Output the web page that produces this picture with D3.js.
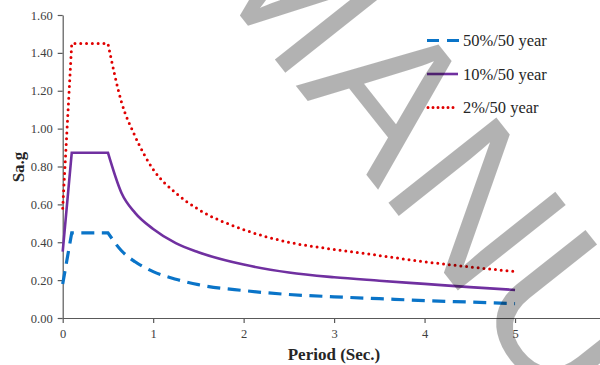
<!DOCTYPE html>
<html>
<head>
<meta charset="utf-8">
<script src="https://cdn.jsdelivr.net/npm/d3@7"></script>
<style>
  body { margin: 0; background: #fff; }
  svg { display: block; }
</style>
</head>
<body>
<svg width="600" height="365"></svg>
<script>
// periods (sec) and spectral values
var periods = [0, 0.1, 0.5, 0.65, 0.8, 1.0, 1.25, 1.5, 2.0, 2.5, 3.0, 3.5, 4.0, 4.5, 5.0];
var s50 = [0.18, 0.45, 0.45, 0.355, 0.297, 0.245, 0.205, 0.176, 0.145, 0.124, 0.112, 0.102, 0.092, 0.084, 0.076];
var s10 = [0.35, 0.873, 0.873, 0.66, 0.555, 0.47, 0.395, 0.347, 0.282, 0.24, 0.215, 0.197, 0.18, 0.163, 0.148];
var s2 = [0.58, 1.45, 1.45, 1.14, 0.96, 0.785, 0.66, 0.574, 0.467, 0.40, 0.362, 0.33, 0.297, 0.27, 0.245];
var seriesNames = ["50%/50 year", "10%/50 year", "2%/50 year"];
var xTicks = [0, 1, 2, 3, 4, 5];
var yTicks = [0, 0.2, 0.4, 0.6, 0.8, 1.0, 1.2, 1.4, 1.6];

var styles = [
  {color: "#0a74c8", width: 3.2, dash: "13 7.5", cap: "butt"},
  {color: "#7030a0", width: 2.6, dash: null, cap: "butt"},
  {color: "#e00000", width: 3, dash: "0 5.8", cap: "round"}
];

var svg = d3.select("svg");

var x = d3.scaleLinear().domain([0, 6]).range([62.7, 605.5]);
var y = d3.scaleLinear().domain([0, 1.6]).range([318, 15]);

// axes
var yAxis = svg.append("g")
  .attr("transform", "translate(62.7,0)")
  .call(d3.axisLeft(y).tickValues(yTicks).tickFormat(d3.format(".2f")).tickSize(5).tickSizeOuter(0).tickPadding(5));
var xAxis = svg.append("g")
  .attr("transform", "translate(0,318)")
  .call(d3.axisBottom(x).tickValues(xTicks).tickFormat(d3.format("d")).tickSize(5).tickSizeOuter(0).tickPadding(6));

svg.selectAll(".domain, .tick line").attr("stroke", "#595959").attr("stroke-width", 1.2);
svg.selectAll(".tick text")
  .attr("font-family", "'Liberation Serif', serif")
  .attr("font-size", 12.5)
  .attr("fill", "#404040");

// axis titles
svg.append("text")
  .attr("x", 334).attr("y", 360)
  .attr("text-anchor", "middle")
  .attr("font-family", "'Liberation Serif', serif")
  .attr("font-weight", "bold")
  .attr("font-size", 17)
  .attr("fill", "#262626")
  .text("Period (Sec.)");

svg.append("text")
  .attr("transform", "translate(24,167) rotate(-90)")
  .attr("text-anchor", "middle")
  .attr("font-family", "'Liberation Serif', serif")
  .attr("font-weight", "bold")
  .attr("font-size", 17)
  .attr("fill", "#262626")
  .text("Sa.g");

// curves: straight ramp + plateau, then a smooth decay from the corner
var allSeries = [s50, s10, s2];
var straight = d3.line().x(d => x(d[0])).y(d => y(d[1]));
var smooth = d3.line().x(d => x(d[0])).y(d => y(d[1])).curve(d3.curveMonotoneX);

allSeries.forEach(function(vals, i) {
  var pts = periods.map((p, j) => [p, vals[j]]);
  var d = straight(pts.slice(0, 3)) + smooth(pts.slice(2)).replace(/^M[^A-Za-z]*/, "");
  svg.append("path")
    .attr("d", d)
    .attr("fill", "none")
    .attr("stroke", styles[i].color)
    .attr("stroke-width", styles[i].width)
    .attr("stroke-dasharray", styles[i].dash)
    .attr("stroke-linecap", styles[i].cap);
});

// legend
var legend = svg.append("g").attr("transform", "translate(427,46)");
seriesNames.forEach(function(name, i) {
  var row = legend.append("g").attr("transform", "translate(0," + (i * 33.5) + ")");
  row.append("line")
    .attr("x1", i == 2 ? 1 : 0).attr("x2", i == 0 ? 32 : 31)
    .attr("y1", -5.5).attr("y2", -5.5)
    .attr("stroke", styles[i].color)
    .attr("stroke-width", styles[i].width)
    .attr("stroke-dasharray", i == 0 ? "12 8" : (i == 2 ? "0 5" : null))
    .attr("stroke-linecap", styles[i].cap);
  row.append("text")
    .attr("x", 36).attr("y", 0)
    .attr("font-family", "'Liberation Serif', serif")
    .attr("font-size", 16.5)
    .attr("fill", "#262626")
    .text(name);
});

// watermark over the chart
svg.append("text")
  .attr("transform", "translate(192,-45) rotate(51.6)")
  .attr("font-family", "'Liberation Sans', Arial, sans-serif")
  .attr("font-size", 200)
  .attr("fill", "#000")
  .attr("fill-opacity", 0.3)
  .text("MANU");
</script>
</body>
</html>
